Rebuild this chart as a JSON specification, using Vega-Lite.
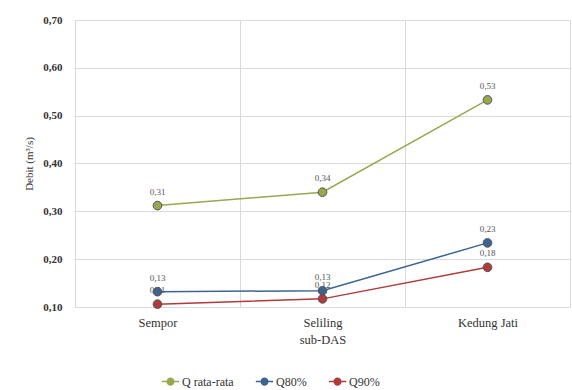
{
  "$schema": "https://vega.github.io/schema/vega-lite/v6.json",
  "width": 495,
  "height": 287,
  "autosize": {"type": "none"},
  "padding": {"left": 75, "top": 20, "right": 2, "bottom": 83},
  "background": "white",
  "config": {
    "locale": {"number": {"decimal": ",", "thousands": ".", "grouping": [3], "currency": ["", ""]}},
    "font": "Liberation Serif",
    "view": {"stroke": null},
    "axis": {"labelFont": "Liberation Serif", "titleFont": "Liberation Serif", "labelColor": "#333333", "titleColor": "#333333", "gridColor": "#d9d9d9", "gridWidth": 1}
  },
  "data": {
    "values": [
      {"sub": "Sempor", "seri": "Q rata-rata", "debit": 0.312},
      {"sub": "Seliling", "seri": "Q rata-rata", "debit": 0.340},
      {"sub": "Kedung Jati", "seri": "Q rata-rata", "debit": 0.533},
      {"sub": "Sempor", "seri": "Q80%", "debit": 0.132},
      {"sub": "Seliling", "seri": "Q80%", "debit": 0.134},
      {"sub": "Kedung Jati", "seri": "Q80%", "debit": 0.234},
      {"sub": "Sempor", "seri": "Q90%", "debit": 0.106},
      {"sub": "Seliling", "seri": "Q90%", "debit": 0.117},
      {"sub": "Kedung Jati", "seri": "Q90%", "debit": 0.183}
    ]
  },
  "encoding": {
    "x": {
      "field": "sub", "type": "nominal", "sort": ["Sempor", "Seliling", "Kedung Jati"],
      "scale": {"paddingInner": 0, "paddingOuter": 0},
      "axis": {"grid": true, "tickBand": "extent", "ticks": false, "domain": false, "labelAngle": 0, "labelFontSize": 12.5, "labelPadding": 9, "title": "sub-DAS", "titleFontSize": 12.5, "titleFontWeight": "normal", "titlePadding": 5}
    },
    "y": {
      "field": "debit", "type": "quantitative",
      "scale": {"domain": [0.1, 0.7], "nice": false, "zero": false},
      "axis": {"title": "Debit (m³/s)", "titleFontSize": 11, "titleFontWeight": "normal", "titlePadding": 8, "labelFontSize": 11, "labelFontWeight": "bold", "labelPadding": 13, "format": ".2f", "values": [0.1, 0.2, 0.3, 0.4, 0.5, 0.6, 0.7], "ticks": false, "domain": false, "grid": true}
    },
    "color": {
      "field": "seri", "type": "nominal",
      "scale": {"domain": ["Q rata-rata", "Q80%", "Q90%"], "range": ["#98a84e", "#3d6490", "#b03a3c"]},
      "legend": {
        "orient": "none", "legendX": 86, "legendY": 352, "direction": "horizontal", "title": null,
        "symbolType": "M-1,0L1,0M0.38,0A0.38,0.38 0 1 1 -0.38,0A0.38,0.38 0 1 1 0.38,0",
        "symbolSize": 300, "symbolStrokeWidth": 1.5, "labelFont": "Liberation Serif", "labelFontSize": 12, "labelColor": "#333333", "columnPadding": 18, "labelOffset": 2
      }
    }
  },
  "layer": [
    {"mark": {"type": "line", "strokeWidth": 1.5}},
    {
      "mark": {"type": "text", "dy": -14, "fontSize": 9, "font": "Liberation Serif"},
      "encoding": {
        "text": {"field": "debit", "type": "quantitative", "format": ".2f"},
        "color": {"value": "#555"}
      }
    },
    {"mark": {"type": "point", "filled": true, "size": 75, "opacity": 1, "strokeWidth": 1, "stroke": "#555"}}
  ]
}
